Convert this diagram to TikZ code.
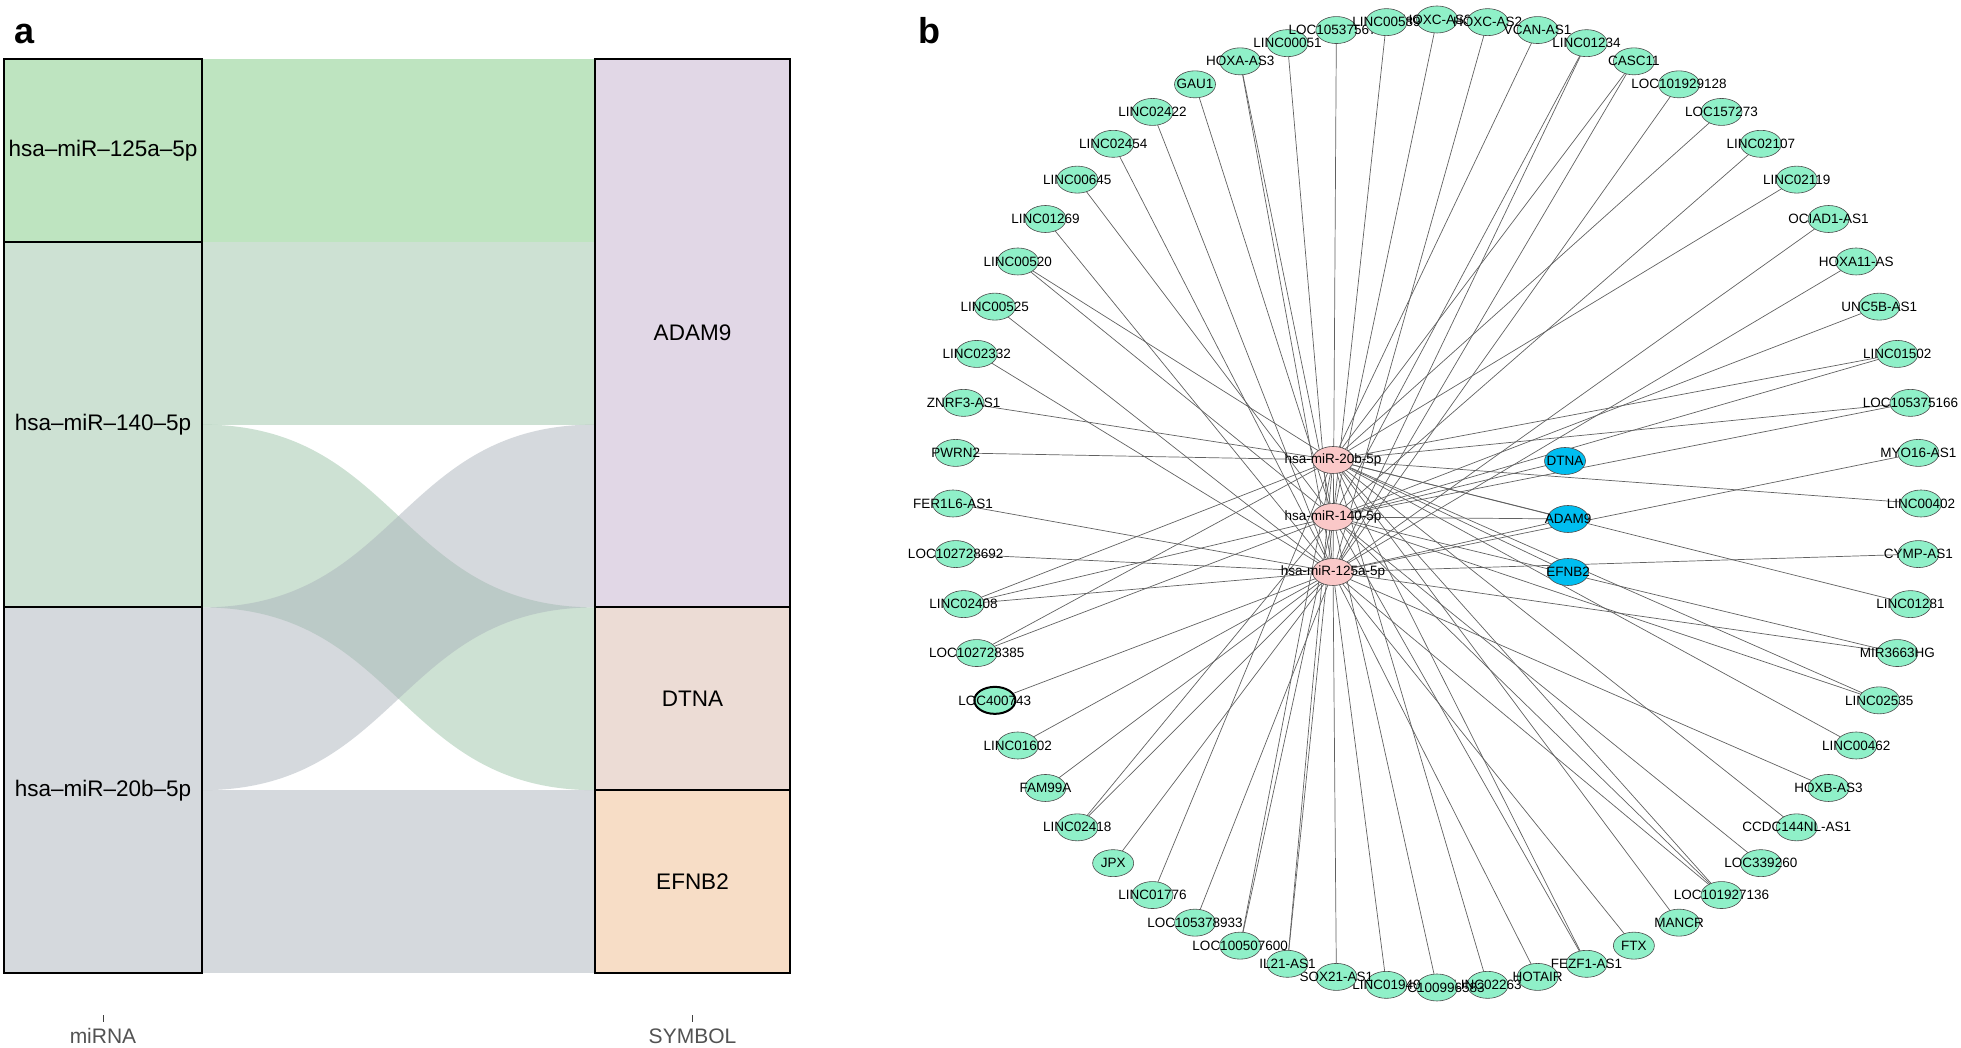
\documentclass[tikz,border=0pt]{standalone}
\usepackage{fontspec}
\setmainfont{Liberation Sans}
\usetikzlibrary{shapes.geometric,calc}
\pgfdeclarelayer{bg}
\pgfsetlayers{bg,main}
\definecolor{aqua}{RGB}{143,240,200}
\definecolor{pinkn}{RGB}{250,200,200}
\definecolor{bluen}{RGB}{0,190,240}
\definecolor{ca}{RGB}{190,228,192}
\definecolor{cb}{RGB}{205,225,211}
\definecolor{cc}{RGB}{213,217,221}
\definecolor{cbx}{RGB}{155,195,167}
\definecolor{ccx}{RGB}{171,179,187}
\definecolor{cadam}{RGB}{225,215,230}
\definecolor{cdtna}{RGB}{236,220,213}
\definecolor{cefnb}{RGB}{247,221,198}
\begin{document}
\begin{tikzpicture}[x=1pt,y=1pt,
  ring/.style={ellipse, draw=black!70, line width=0.6pt, fill=aqua, minimum width=41pt, minimum height=27pt, inner sep=0pt},
  mirna/.style={ring, fill=pinkn},
  mrna/.style={ring, fill=bluen},
  lbl/.style={font=\fontsize{13.5}{16}\selectfont, inner sep=0pt},
  edge/.style={draw=black!62, line width=0.7pt},
  box/.style={draw=black, line width=2pt},
  alab/.style={font=\fontsize{22.5}{27}\selectfont, inner sep=0pt},
  axlab/.style={font=\fontsize{21}{25}\selectfont, text=black!68, inner sep=0pt},
  panel/.style={font=\fontsize{36}{40}\selectfont\bfseries, inner sep=0pt}]
\useasboundingbox (0,0) rectangle (1961,1048);

% ---------- panel a ----------
\node[panel, anchor=base west] (pa) at (14,1004) {a};
% straight flows
\fill[ca] (202,806.2) rectangle (595,989);
\fill[cb] (202,623.4) rectangle (595,806.2);
\fill[cc] (202,75) rectangle (595,257.8);
% crossing flows
\fill[cbx, opacity=.5] (202,623.4) .. controls (398.5,623.4) and (398.5,440.6) .. (595,440.6)
   -- (595,257.8) .. controls (398.5,257.8) and (398.5,440.6) .. (202,440.6) -- cycle;
\fill[ccx, opacity=.5] (202,440.6) .. controls (398.5,440.6) and (398.5,623.4) .. (595,623.4)
   -- (595,440.6) .. controls (398.5,440.6) and (398.5,257.8) .. (202,257.8) -- cycle;
% strata
\fill[ca] (4,806.2) rectangle (202,989);
\fill[cb] (4,440.6) rectangle (202,806.2);
\fill[cc] (4,75) rectangle (202,440.6);
\fill[cadam] (595,440.6) rectangle (790,989);
\fill[cdtna] (595,257.8) rectangle (790,440.6);
\fill[cefnb] (595,75) rectangle (790,257.8);
\draw[box] (4,806.2) rectangle (202,989);
\draw[box] (4,440.6) rectangle (202,806.2);
\draw[box] (4,75) rectangle (202,440.6);
\draw[box] (595,440.6) rectangle (790,989);
\draw[box] (595,257.8) rectangle (790,440.6);
\draw[box] (595,75) rectangle (790,257.8);
\node[alab] (la1) at (103,897.6) {hsa–miR–125a–5p};
\node[alab] (la2) at (103,623.4) {hsa–miR–140–5p};
\node[alab] (la3) at (103,257.8) {hsa–miR–20b–5p};
\node[alab] (ra1) at (692.5,714.8) {ADAM9};
\node[alab] (ra2) at (692.5,349.2) {DTNA};
\node[alab] (ra3) at (692.5,166.4) {EFNB2};
% axis
\coordinate (tk1a) at (103,26); \coordinate (tk1b) at (103,33);
\coordinate (tk2a) at (692.5,26); \coordinate (tk2b) at (692.5,33);
\draw[black!75, line width=1pt] (tk1a) -- (tk1b);
\draw[black!75, line width=1pt] (tk2a) -- (tk2b);
\node[axlab, anchor=base] (ax1) at (103,4) {miRNA};
\node[axlab, anchor=base] (ax2) at (692.5,4) {SYMBOL};

% ---------- panel b ----------
\node[panel, anchor=base west] (pb) at (918,1004) {b};
\coordinate (ctr) at (1437,544.5);
\node[mirna] (m20) at (1333,588) {};
\node[mirna] (m140) at (1333,531) {};
\node[mirna] (m125) at (1333,476) {};
\node[mrna] (dtna) at (1565,587) {};
\node[mrna] (adam) at (1568,529) {};
\node[mrna] (efnb) at (1568,476) {};
\begin{pgfonlayer}{bg}
\draw[edge] (dtna.center) -- (m140.center);
\draw[edge] (adam.center) -- (m20.center);
\draw[edge] (adam.center) -- (m140.center);
\draw[edge] (adam.center) -- (m125.center);
\draw[edge] (efnb.center) -- (m20.center);
\end{pgfonlayer}

\foreach \lab/\tg [count=\k] in {
 HOXC-AS3/{m140}, HOXC-AS2/{m125}, VCAN-AS1/{m20}, LINC01234/{m140,m125}, CASC11/{m20,m125},
 LOC101929128/{m125}, LOC157273/{m20}, LINC02107/{m140}, LINC02119/{m20}, OCIAD1-AS1/{m125},
 HOXA11-AS/{m125}, UNC5B-AS1/{m140}, LINC01502/{m20,m140}, LOC105375166/{m20,m140}, MYO16-AS1/{m125},
 LINC00402/{m20}, CYMP-AS1/{m125}, LINC01281/{m20}, MIR3663HG/{m140,m125}, LINC02535/{m20,m140},
 LINC00462/{m20}, HOXB-AS3/{m125}, CCDC144NL-AS1/{m20}, LOC339260/{m140}, LOC101927136/{m20,m140,m125},
 MANCR/{m20}, FTX/{m125}, FEZF1-AS1/{m20,m140}, HOTAIR/{m125}, LINC02263/{m20},
 LOC100996583/{m140}, LINC01940/{m125}, SOX21-AS1/{m125}, IL21-AS1/{m20,m140}, LOC100507600/{m20,m140},
 LOC105378933/{m125}, LINC01776/{m20}, JPX/{m125}, LINC02418/{m140,m125}, FAM99A/{m125},
 LINC01602/{m125}, LOC400743/{m125}, LOC102728385/{m20,m140}, LINC02408/{m20,m140,m125}, LOC102728692/{m125},
 FER1L6-AS1/{m125}, PWRN2/{m20}, ZNRF3-AS1/{m20}, LINC02332/{m125}, LINC00525/{m125},
 LINC00520/{m20,m140}, LINC01269/{m125}, LINC00645/{m140}, LINC02454/{m125}, LINC02422/{m125},
 GAU1/{m140}, HOXA-AS3/{m140,m125}, LINC00051/{m125}, LOC105375673/{m125}, LINC00589/{m140}} {
  \node[ring] (n\k) at ($(ctr)+({90-6*(\k-1)}:484pt)$) {};
  \node[lbl] (t\k) at (n\k) {\lab};
  \begin{pgfonlayer}{bg}
  \foreach \t in \tg { \draw[edge] (n\k.center) -- (\t.center); }
  \end{pgfonlayer}
}
\node[ring, fill=none, draw=black, line width=2pt] (hl42) at (n42) {};

\node[lbl] (tm20) at (m20) {hsa-miR-20b-5p};
\node[lbl] (tm140) at (m140) {hsa-miR-140-5p};
\node[lbl] (tm125) at (m125) {hsa-miR-125a-5p};
\node[lbl] (tdtna) at (dtna) {DTNA};
\node[lbl] (tadam) at (adam) {ADAM9};
\node[lbl] (tefnb) at (efnb) {EFNB2};
\end{tikzpicture}
\end{document}
